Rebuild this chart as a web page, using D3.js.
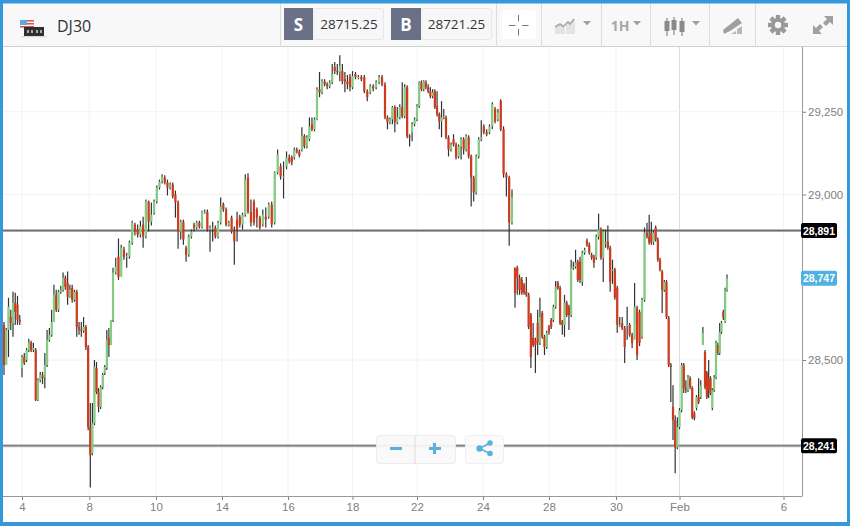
<!DOCTYPE html>
<html><head><meta charset="utf-8">
<script src="https://cdn.jsdelivr.net/npm/d3@7"></script>
<style>html,body{margin:0;padding:0;background:#fff}svg{display:block}</style>
</head><body><svg id="c" width="850" height="526"></svg>
<script>
const instrument="DJ30", sellPrice="28715.25", buyPrice="28721.25", timeframe="1H";
const yTicks=[28500,29000,29250];
const levelLines=[28891,28241];
const lastPrice=28747;
const tickLabels=["4","8","10","14","16","18","22","24","28","30","Feb","6"];
const tickCandles=[8,37.5,64.7,89.5,112.5,138,162,189.7,216,245.5,273,328];
const timeAnchors=[0,8,37.5,49,64.7,89.5,99,112.5,124,138,149,162,175,189.7,200,201,216,230,245.5,258,273,285,297,328];
const opens=[
28606,28485,28591,28630,28612,28673,28667,28621,28476,28509,
28500,28530,28552,28530,28530,28379,28439,28455,28448,28485,
28561,28576,28615,28697,28652,28706,28712,28748,28733,28691,
28718,28682,28706,28600,28591,28588,28600,28539,28297,28218,
28309,28476,28403,28358,28418,28461,28476,28567,28545,28621,
28764,28812,28751,28833,28812,28812,28855,28909,28894,28879,
28909,28873,28979,28918,28945,28979,29021,29039,29051,29036,
29021,29030,29000,28976,28888,28918,28839,28818,28873,28909,
28900,28915,28903,28948,28948,28894,28900,28900,28873,28915,
28970,28955,28909,28930,28888,28924,28933,28909,28939,29051,
28948,28979,28955,28930,28909,28933,28933,28970,28915,29067,
29085,29054,29085,29112,29112,29112,29136,29130,29136,29176,
29145,29167,29212,29197,29227,29318,29309,29342,29333,29327,
29339,29385,29373,29370,29373,29348,29342,29355,29324,29364,
29355,29355,29355,29312,29309,29327,29324,29339,29355,29333,
29233,29218,29227,29264,29218,29233,29264,29236,29324,29176,
29188,29212,29227,29267,29339,29318,29339,29324,29312,29297,
29312,29267,29242,29221,29233,29233,29173,29136,29167,29151,
29115,29145,29167,29136,29173,29115,29051,29006,29115,29167,
29206,29188,29188,29206,29258,29227,29282,29197,29061,29051,
28915,28779,28779,28748,28742,28727,28706,28697,28636,28567,
28561,28612,28552,28642,28570,28539,28600,28621,28621,28661,
28733,28718,28615,28606,28673,28661,28636,28779,28782,28797,
28797,28736,28824,28861,28848,28818,28812,28809,28873,28894,
28809,28855,28858,28839,28773,28773,28718,28606,28612,28597,
28606,28606,28576,28561,28658,28645,28570,28682,28885,28873,
28885,28855,28900,28864,28803,28767,28712,28736,28627,28485,
28358,28318,28236,28297,28348,28485,28415,28409,28445,28415,
28339,28355,28388,28388,28545,28524,28461,28445,28445,28355,
28409,28448,28545,28521,28585,28645,28615,28712];
const highs=[
28615,28597,28688,28652,28706,28703,28694,28636,28515,28521,
28536,28564,28558,28552,28536,28445,28464,28464,28521,28591,
28597,28652,28727,28712,28712,28724,28764,28755,28767,28727,
28727,28712,28712,28615,28615,28630,28606,28545,28370,28370,
28500,28494,28415,28424,28461,28485,28591,28597,28621,28779,
28809,28867,28848,28842,28824,28861,28921,28915,28909,28921,
28933,28985,28982,28976,28985,29027,29045,29061,29058,29045,
29036,29036,29012,28982,28924,28924,28845,28879,28894,28915,
28921,28921,28951,28955,28955,28906,28918,28906,28921,28991,
28976,28961,28921,28936,28903,28948,28939,28945,29061,29064,
28985,28985,28961,28936,28955,28961,28976,28979,29070,29136,
29094,29100,29130,29121,29118,29142,29142,29136,29203,29182,
29179,29233,29233,29233,29324,29370,29348,29348,29339,29345,
29394,29400,29394,29421,29394,29370,29361,29364,29373,29370,
29361,29361,29361,29318,29333,29333,29345,29361,29361,29339,
29239,29233,29267,29270,29264,29273,29339,29333,29330,29182,
29218,29233,29273,29342,29345,29345,29345,29333,29324,29318,
29318,29312,29248,29282,29258,29239,29179,29157,29182,29157,
29151,29173,29173,29182,29179,29121,29057,29121,29173,29224,
29212,29197,29212,29279,29264,29258,29288,29206,29067,29057,
29015,28779,28785,28758,28751,28733,28751,28703,28642,28612,
28567,28652,28688,28648,28576,28588,28606,28627,28667,28739,
28739,28724,28621,28697,28679,28667,28803,28797,28833,28803,
28812,28830,28839,28867,28855,28824,28818,28879,28942,28900,
28894,28894,28906,28845,28803,28779,28724,28630,28630,28603,
28661,28612,28582,28733,28664,28652,28688,28900,28915,28939,
28918,28891,28906,28870,28809,28773,28742,28742,28633,28491,
28424,28333,28327,28355,28491,28491,28439,28455,28451,28421,
28345,28394,28445,28439,28600,28530,28467,28500,28451,28415,
28455,28558,28552,28612,28618,28652,28718,28758];
const lows=[
28455,28509,28509,28591,28570,28606,28606,28606,28448,28485,
28494,28524,28524,28524,28376,28376,28433,28427,28415,28479,
28555,28570,28652,28645,28645,28700,28706,28712,28667,28688,
28673,28676,28570,28576,28570,28582,28530,28288,28115,28212,
28303,28397,28342,28352,28412,28455,28470,28509,28570,28615,
28758,28742,28797,28803,28779,28806,28848,28876,28870,28870,
28839,28867,28888,28906,28939,28973,29015,29033,29030,28997,
29015,28988,28930,28836,28864,28848,28797,28812,28867,28888,
28894,28897,28897,28942,28888,28827,28858,28867,28867,28909,
28948,28903,28903,28882,28788,28858,28900,28894,28933,28942,
28903,28906,28900,28894,28903,28900,28927,28900,28909,29061,
29045,28988,29076,29094,29088,29106,29124,29112,29130,29139,
29139,29161,29191,29191,29224,29294,29303,29327,29318,29321,
29333,29364,29361,29342,29333,29309,29318,29312,29318,29348,
29348,29342,29306,29282,29303,29312,29318,29333,29327,29227,
29197,29212,29212,29188,29212,29227,29230,29230,29170,29145,
29161,29206,29221,29261,29312,29312,29318,29306,29291,29291,
29258,29236,29197,29173,29227,29167,29115,29130,29145,29106,
29109,29106,29121,29130,29109,28964,28979,29000,29109,29161,
29182,29176,29182,29197,29215,29221,29191,29051,28994,28845,
28909,28658,28697,28697,28697,28697,28691,28594,28476,28539,
28461,28515,28545,28564,28515,28533,28576,28594,28615,28655,
28712,28606,28576,28570,28630,28591,28630,28773,28776,28736,
28733,28724,28818,28842,28818,28803,28779,28803,28864,28803,
28736,28839,28833,28706,28730,28682,28582,28600,28591,28491,
28561,28570,28536,28612,28500,28542,28564,28676,28867,28848,
28848,28848,28858,28797,28767,28642,28706,28624,28479,28373,
28258,28158,28230,28291,28342,28400,28400,28403,28412,28321,
28318,28348,28367,28382,28545,28412,28382,28385,28394,28348,
28403,28442,28515,28515,28579,28621,28612,28706];
const closes=[
28485,28591,28661,28612,28673,28645,28621,28615,28509,28491,
28530,28552,28530,28536,28379,28439,28455,28445,28485,28561,
28576,28615,28697,28652,28706,28712,28748,28721,28691,28712,
28682,28706,28600,28591,28588,28600,28539,28297,28212,28309,
28479,28403,28358,28418,28455,28479,28561,28545,28621,28764,
28782,28751,28839,28812,28815,28855,28915,28888,28879,28903,
28873,28979,28918,28939,28979,29021,29039,29054,29036,29021,
29030,28994,28976,28888,28918,28864,28818,28873,28888,28900,
28915,28903,28948,28948,28894,28900,28900,28873,28915,28964,
28955,28909,28915,28888,28858,28894,28909,28939,29045,28948,
28915,28915,28930,28900,28939,28924,28970,28909,29067,29121,
29054,29054,29112,29100,29097,29136,29130,29118,29176,29145,
29173,29206,29197,29227,29318,29309,29342,29333,29327,29339,
29364,29373,29370,29388,29342,29342,29333,29324,29358,29355,
29355,29348,29312,29294,29327,29321,29339,29355,29333,29233,
29218,29227,29264,29218,29233,29264,29236,29324,29176,29173,
29212,29227,29267,29339,29318,29342,29324,29312,29297,29309,
29264,29242,29221,29233,29236,29173,29136,29151,29151,29112,
29145,29167,29136,29176,29115,29051,29006,29115,29167,29173,
29188,29182,29206,29273,29221,29248,29197,29061,29051,28915,
28991,28703,28748,28712,28703,28703,28697,28600,28509,28545,
28545,28552,28630,28570,28539,28582,28585,28600,28661,28721,
28718,28612,28606,28673,28636,28636,28779,28782,28794,28742,
28742,28824,28833,28848,28824,28809,28794,28873,28894,28809,
28888,28855,28839,28736,28773,28688,28606,28606,28597,28539,
28606,28576,28552,28661,28515,28552,28682,28885,28873,28855,
28855,28885,28864,28803,28773,28712,28736,28630,28485,28479,
28318,28236,28297,28348,28485,28415,28409,28448,28418,28327,
28324,28388,28373,28424,28582,28418,28388,28409,28400,28409,
28448,28552,28521,28585,28612,28630,28712,28747];

const svg=d3.select("#c");
const defs=svg.append("defs");
defs.append("filter").attr("id","soft").attr("x","-2%").attr("y","-2%").attr("width","104%").attr("height","104%")
 .append("feGaussianBlur").attr("stdDeviation",0.4);
const x=d3.scaleLinear().domain(timeAnchors).range([4,22,89.3,113,156,222,248,288,317,352.5,385,417,446,483,512,515,549,580,616,647,679.5,705,727,783.5]);
const y=d3.scaleLinear().domain([28500,29250]).range([360,111.75]);
const plotRight=802, plotBottom=496, plotTop=46, plotLeft=3;
const gridCol="#f2f2f2", tickCol="#808080";

svg.append("rect").attr("width",850).attr("height",526).attr("fill","#fff");
// grid
const g=svg.append("g");
g.selectAll("line.v").data(tickCandles).join("line").attr("class","v")
 .attr("x1",d=>x(d)).attr("x2",d=>x(d)).attr("y1",plotTop).attr("y2",plotBottom)
 .attr("stroke",(d,i)=>tickLabels[i]==="Feb"?"#dcdcdc":gridCol).attr("stroke-width",1);
g.selectAll("line.h").data(yTicks).join("line").attr("class","h")
 .attr("x1",plotLeft).attr("x2",plotRight).attr("y1",d=>y(d)).attr("y2",d=>y(d))
 .attr("stroke",gridCol);

// level lines
svg.selectAll("line.lvl").data(levelLines).join("line").attr("class","lvl")
 .attr("x1",plotLeft).attr("x2",plotRight).attr("y1",d=>y(d)).attr("y2",d=>y(d))
 .attr("stroke","#bdbdbd").attr("stroke-width",3);
svg.selectAll("line.lvl2").data(levelLines).join("line").attr("class","lvl2")
 .attr("x1",plotLeft).attr("x2",plotRight).attr("y1",d=>y(d)).attr("y2",d=>y(d))
 .attr("stroke","#6e6e6e").attr("stroke-width",1.2);

// candles
const idx=d3.range(closes.length);
const cg=svg.append("g").attr("filter","url(#soft)");
cg.selectAll("line.w").data(idx).join("line").attr("class","w")
 .attr("x1",i=>x(i)).attr("x2",i=>x(i)).attr("y1",i=>y(highs[i])).attr("y2",i=>y(lows[i]))
 .attr("stroke","#333").attr("stroke-width",1.2);
cg.selectAll("rect.b").data(idx).join("rect").attr("class","b")
 .attr("x",i=>x(i)-1.1).attr("width",2.2)
 .attr("y",i=>y(Math.max(opens[i],closes[i])))
 .attr("height",i=>Math.max(1.2,Math.abs(y(opens[i])-y(closes[i]))))
 .attr("fill",i=>closes[i]>=opens[i]?"#84cb84":"#cf3a1c");

// axes
const ax=svg.append("g").attr("transform",`translate(0,${plotBottom})`)
 .call(d3.axisBottom(x).tickValues(tickCandles).tickFormat((d,i)=>tickLabels[i]).tickSize(4).tickPadding(3));
ax.select(".domain").remove();
ax.selectAll("line").attr("stroke",tickCol);
ax.selectAll("text").attr("fill","#808080").attr("font-family","Liberation Sans").attr("font-size",11.5);
const ay=svg.append("g").attr("transform",`translate(${plotRight},0)`)
 .call(d3.axisRight(y).tickValues(yTicks).tickFormat(d3.format(",")).tickSize(4).tickPadding(2));
ay.select(".domain").remove();
ay.selectAll("line").attr("stroke",tickCol);
ay.selectAll("text").attr("fill","#808080").attr("font-family","Liberation Sans").attr("font-size",11.5);
svg.append("line").attr("x1",plotLeft).attr("x2",plotRight+0.5).attr("y1",plotBottom+0.5).attr("y2",plotBottom+0.5).attr("stroke","#999");
svg.append("line").attr("x1",plotRight+0.5).attr("x2",plotRight+0.5).attr("y1",plotTop).attr("y2",plotBottom).attr("stroke","#999");

// price tags
function tag(v,fill){
 const yy=y(v);
 svg.append("rect").attr("x",801).attr("y",yy-7.5).attr("width",36).attr("height",15).attr("rx",2).attr("fill",fill);
 svg.append("text").attr("x",819).attr("y",yy+4).attr("text-anchor","middle").attr("fill","#fff")
  .attr("font-family","Liberation Sans").attr("font-weight","bold").attr("font-size",10.5).text(d3.format(",")(v));
}
levelLines.forEach(v=>tag(v,"#000"));
tag(lastPrice,"#4fb1e0");

// zoom controls
const blue="#5cb0de";
const ctl=svg.append("g");
ctl.append("rect").attr("x",376.5).attr("y",435.5).attr("width",79).attr("height",28).attr("rx",3).attr("fill","#f9f9f9").attr("fill-opacity",.93).attr("stroke","#ececec");
ctl.append("line").attr("x1",415).attr("x2",415).attr("y1",435).attr("y2",464).attr("stroke","#ddd");
ctl.append("rect").attr("x",465.5).attr("y",435.5).attr("width",38).attr("height",28).attr("rx",3).attr("fill","#fbfbfb").attr("fill-opacity",.93).attr("stroke","#efefef");
ctl.append("rect").attr("x",390).attr("y",447).attr("width",12).attr("height",3).attr("fill",blue);
ctl.append("rect").attr("x",429).attr("y",447).attr("width",12).attr("height",3).attr("fill",blue);
ctl.append("rect").attr("x",433).attr("y",443).attr("width",3).attr("height",11).attr("fill",blue);
ctl.append("path").attr("d","M479.5 448.5L490 443M479.5 448.5L490 453.5").attr("stroke",blue).attr("stroke-width",1.6).attr("fill","none");
[[479.5,448.5,3.2],[490,443,2.8],[490,453.5,2.8]].forEach(c=>ctl.append("circle").attr("cx",c[0]).attr("cy",c[1]).attr("r",c[2]).attr("fill",blue));

// toolbar
const tb=svg.append("g");
tb.append("rect").attr("x",0).attr("y",0).attr("width",850).attr("height",46).attr("fill","#f8f8f8");
tb.append("line").attr("x1",0).attr("x2",850).attr("y1",46.5).attr("y2",46.5).attr("stroke","#cfcfcf");
[280.5,496.5,541.5,601.5,650.5,709.5,755.5].forEach(px=>tb.append("line").attr("x1",px).attr("x2",px).attr("y1",3).attr("y2",47).attr("stroke","#dcdcdc"));
// flag icon
tb.append("rect").attr("x",20).attr("y",20).attr("width",14).attr("height",10).attr("fill","#f4f4f4");
[20,23,26].forEach(py=>tb.append("rect").attr("x",20).attr("y",py).attr("width",14).attr("height",1.5).attr("fill","#d9534f"));
tb.append("rect").attr("x",20).attr("y",20).attr("width",7).attr("height",5).attr("fill","#62a8e0");
tb.append("rect").attr("x",24).attr("y",27).attr("width",20).attr("height",9).attr("fill","#2f2f2f");
tb.append("rect").attr("x",21).attr("y",36).attr("width",26).attr("height",1.5).attr("fill","#ddd");
[27,31,36,40].forEach(px=>tb.append("rect").attr("x",px).attr("y",30).attr("width",2).attr("height",3).attr("fill","#aaa"));
const txt=(x0,y0,s,size,fill,w,a)=>tb.append("text").attr("x",x0).attr("y",y0).attr("font-family","Open Sans").attr("font-size",size).attr("fill",fill).attr("font-weight",w||"normal").attr("text-anchor",a||"start").text(s);
txt(57,32,instrument,16,"#333");
// sell / buy
tb.append("rect").attr("x",313).attr("y",8.5).attr("width",70.5).attr("height",31).attr("rx",2).attr("fill","#f7f7f7").attr("stroke","#e8e8e8");
tb.append("rect").attr("x",421).attr("y",8.5).attr("width",70.5).attr("height",31).attr("rx",2).attr("fill","#f7f7f7").attr("stroke","#e8e8e8");
tb.append("rect").attr("x",284).attr("y",8).attr("width",29).attr("height",32).attr("fill","#6a7186");
tb.append("rect").attr("x",391).attr("y",8).attr("width",30).attr("height",32).attr("fill","#6a7186");
txt(298.5,31,"S",17,"#fff","bold","middle");
txt(406,31,"B",17,"#fff","bold","middle");
txt(349,29,sellPrice,13.5,"#333","normal","middle");
txt(456.5,29,buyPrice,13.5,"#333","normal","middle");
// crosshair button
tb.append("rect").attr("x",502).attr("y",10).attr("width",34).attr("height",29).attr("rx",3).attr("fill","#fff");
tb.append("path").attr("d","M509 25.5H515.5M522 25.5H528.5M518.5 15V21.5M518.5 29V35.5").attr("stroke","#777").attr("stroke-width",1).attr("fill","none");
const iconG="#a8a8a8";
// chart type icon
tb.append("path").attr("d","M555 34V27L560 24L565 28V34ZM566 34V25L575 19V34Z").attr("fill","#e3e3e3");
tb.append("path").attr("d","M555 27L560 24L564 27M564 26L568 22L570 24L574 19").attr("stroke",iconG).attr("stroke-width",1.6).attr("fill","none");
const tri=(cx,cy)=>tb.append("path").attr("d",`M${cx-4} ${cy}H${cx+4}L${cx} ${cy+4.5}Z`).attr("fill","#a0a0a0");
tri(587,21);
txt(620,31,timeframe,14,"#a8a8a8","bold","middle");
tri(637,21);
// candles icon
[[667,18,36,21,31],[674,17,35,20,30],[682,18,36,21,32]].forEach(c=>{
 tb.append("line").attr("x1",c[0]).attr("x2",c[0]).attr("y1",c[1]).attr("y2",c[2]).attr("stroke","#8a8a8a").attr("stroke-width",1.2);
 tb.append("rect").attr("x",c[0]-2.5).attr("y",c[3]).attr("width",5).attr("height",c[4]-c[3]).attr("fill","#8a8a8a");
});
tri(696,21);
// pencil icon
tb.append("path").attr("d","M723 30L738 18L742 23L730 31L724 34Z").attr("fill","#a0a0a0");
tb.append("path").attr("d","M731 34L736 31V34ZM737 34V29L742 26V34Z").attr("fill","#b8b8b8");
// gear
const gear=tb.append("g").attr("transform","translate(778,25)");
d3.range(8).forEach(i=>gear.append("rect").attr("x",-2.2).attr("y",-10).attr("width",4.4).attr("height",5).attr("fill","#999").attr("transform",`rotate(${i*45})`));
gear.append("circle").attr("r",7).attr("fill","#999");
gear.append("circle").attr("r",3.2).attr("fill","#f8f8f8");
// expand
tb.append("path").attr("d","M824 16H833V25L830 22L826 26L823 23L827 19Z M822 34H813V25L816 28L820 24L823 27L819 31Z").attr("fill","#a0a0a0");

// frame
const frame="#3498db";
svg.append("rect").attr("x",0).attr("y",0).attr("width",850).attr("height",3.5).attr("fill",frame);
svg.append("rect").attr("x",0).attr("y",522).attr("width",850).attr("height",4).attr("fill",frame);
svg.append("rect").attr("x",0).attr("y",0).attr("width",3).attr("height",526).attr("fill",frame);
svg.append("rect").attr("x",847).attr("y",0).attr("width",3).attr("height",526).attr("fill",frame);
</script></body></html>
